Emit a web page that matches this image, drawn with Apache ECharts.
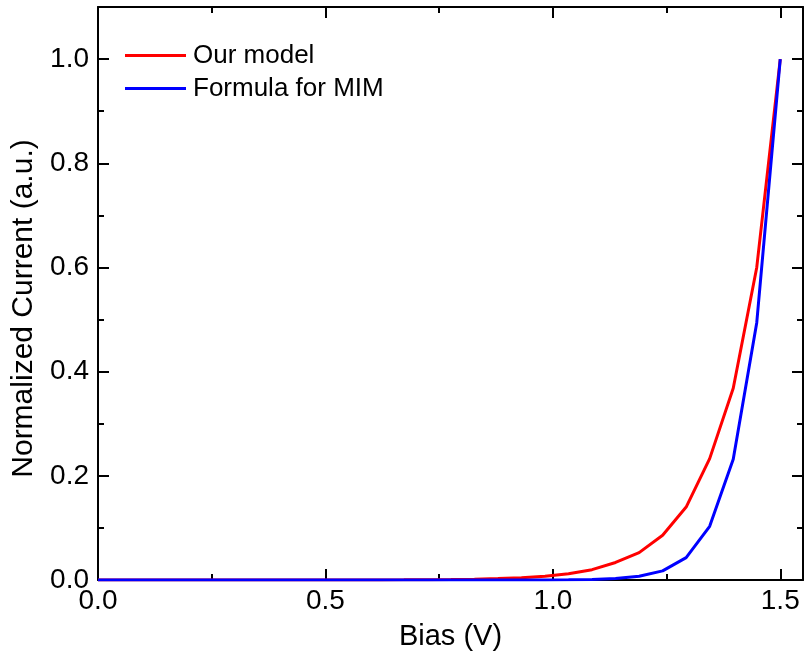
<!DOCTYPE html>
<html>
<head>
<meta charset="utf-8">
<script src="https://cdn.jsdelivr.net/npm/echarts@6/dist/echarts.min.js"></script>
<style>
html,body{margin:0;padding:0;background:#fff;}
#chart{width:805px;height:658px;}
</style>
</head>
<body>
<div id="chart"></div>
<script>
// Bias values (V)
var biasValues = [0, 0.0517, 0.1034, 0.1552, 0.2069, 0.2586, 0.3103, 0.3621, 0.4138, 0.4655,
  0.5172, 0.5690, 0.6207, 0.6724, 0.7241, 0.7759, 0.8276, 0.8793, 0.9310, 0.9828,
  1.0345, 1.0862, 1.1379, 1.1897, 1.2414, 1.2931, 1.3448, 1.3966, 1.4483, 1.5];
// Normalized current, "Our model"
var ourModel = [0, 0, 0, 0, 0, 0, 0, 0, 0.00002, 0.00004,
  0.00007, 0.00012, 0.0002, 0.00035, 0.0006, 0.0010, 0.0016, 0.0027, 0.0044, 0.0072,
  0.0120, 0.0198, 0.0337, 0.0525, 0.0860, 0.1400, 0.2330, 0.3680, 0.6000, 1.0];
// Normalized current, "Formula for MIM"
var formulaMIM = [0, 0, 0, 0, 0, 0, 0, 0, 0, 0,
  0, 0, 0, 0, 0, 0, 0, 0.00002, 0.00005, 0.00015,
  0.0004, 0.0010, 0.0027, 0.0072, 0.0175, 0.0430, 0.1030, 0.2320, 0.4940, 1.0];

var xMajorTicks = [0, 0.5, 1.0, 1.5];
var xMinorTicks = [0.25, 0.75, 1.25];
var yMajorTicks = [0, 0.2, 0.4, 0.6, 0.8, 1.0];
var yMinorTicks = [0.1, 0.3, 0.5, 0.7, 0.9];
var seriesNames = ['Our model', 'Formula for MIM'];

function pairs(xs, ys) {
  var out = [];
  for (var i = 0; i < xs.length; i++) out.push([xs[i], ys[i]]);
  return out;
}

var FONT = 'Liberation Sans, Arial, sans-serif';
var lineStyleAxis = {color: '#000', width: 2};

function xAx(pos, ticks, len, showLine, showLabel) {
  return {
    type: 'value', position: pos, min: 0, max: 1.55,
    axisLine: {show: showLine, onZero: false, lineStyle: lineStyleAxis},
    axisTick: {show: true, inside: true, length: len, customValues: ticks, lineStyle: {color: '#000', width: 2}},
    axisLabel: {show: showLabel, customValues: ticks, margin: 7, color: '#000', fontSize: 28, fontFamily: FONT,
      formatter: function (v) { return v.toFixed(1); }},
    splitLine: {show: false}
  };
}
function yAx(pos, ticks, len, showLine, showLabel) {
  return {
    type: 'value', position: pos, min: 0, max: 1.1,
    axisLine: {show: showLine, onZero: false, lineStyle: lineStyleAxis},
    axisTick: {show: true, inside: true, length: len, customValues: ticks, lineStyle: {color: '#000', width: 2}},
    axisLabel: {show: showLabel, customValues: ticks, margin: 9, color: '#000', fontSize: 28, fontFamily: FONT,
      formatter: function (v) { return v.toFixed(1); }},
    splitLine: {show: false}
  };
}

var xAxes = [
  xAx('bottom', xMajorTicks, 11, true, true),
  xAx('bottom', xMinorTicks, 6, false, false),
  xAx('top', xMajorTicks, 11, true, false),
  xAx('top', xMinorTicks, 6, false, false)
];
xAxes[0].name = 'Bias (V)';
xAxes[0].nameLocation = 'middle';
xAxes[0].nameGap = 42;
xAxes[0].nameTextStyle = {color: '#000', fontSize: 29, fontFamily: FONT};

var yAxes = [
  yAx('left', yMajorTicks, 11, true, true),
  yAx('left', yMinorTicks, 6, false, false),
  yAx('right', yMajorTicks, 11, true, false),
  yAx('right', yMinorTicks, 6, false, false)
];
yAxes[0].name = 'Normalized Current (a.u.)';
yAxes[0].nameLocation = 'middle';
yAxes[0].nameGap = 55;
yAxes[0].nameTextStyle = {color: '#000', fontSize: 30, fontFamily: FONT, padding: [0, 30, 0, 0]};

var chart = echarts.init(document.getElementById('chart'), null, {renderer: 'canvas'});
chart.setOption({
  backgroundColor: '#fff',
  animation: false,
  grid: {left: 98, right: 2, top: 7, bottom: 78, containLabel: false},
  legend: {
    orient: 'vertical', left: 125, top: 39, itemGap: 0, padding: 0,
    itemWidth: 61, itemHeight: 3, icon: 'rect',
    textStyle: {fontSize: 26, fontFamily: FONT, color: '#000', lineHeight: 33, padding: [0, 0, 0, 2]},
    data: seriesNames
  },
  xAxis: xAxes,
  yAxis: yAxes,
  series: [
    {name: seriesNames[0], type: 'line', xAxisIndex: 0, yAxisIndex: 0, showSymbol: false, symbol: 'none',
      data: pairs(biasValues, ourModel), lineStyle: {color: '#ff0000', width: 3}, itemStyle: {color: '#ff0000'}, z: 3},
    {name: seriesNames[1], type: 'line', xAxisIndex: 0, yAxisIndex: 0, showSymbol: false, symbol: 'none',
      data: pairs(biasValues, formulaMIM), lineStyle: {color: '#0000ff', width: 3}, itemStyle: {color: '#0000ff'}, z: 4}
  ]
});
</script>
</body>
</html>
